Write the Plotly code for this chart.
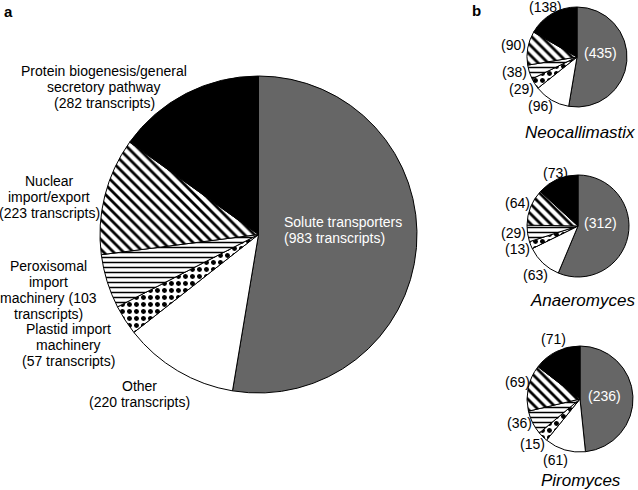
import plotly.graph_objects as go

W, H = 638, 490
FONT = "Liberation Sans, Arial, sans-serif"

# ---- data ----
categories = ["Solute transporters", "Other", "Plastid import machinery",
              "Peroxisomal import machinery", "Nuclear import/export",
              "Protein biogenesis/general secretory pathway"]
all_values = [983, 220, 57, 103, 223, 282]
species = ["Neocallimastix", "Anaeromyces", "Piromyces"]
neo_values = [435, 96, 29, 38, 90, 138]
ana_values = [312, 63, 13, 29, 64, 73]
pir_values = [236, 61, 15, 36, 69, 71]
species_values = [neo_values, ana_values, pir_values]

# ---- styles ----
colors = ["#666666", "#ffffff", "#ffffff", "#ffffff", "#ffffff", "#000000"]
shapes = ["", "", ".", "-", "\\", ""]
pat_sizes = [8, 8, 7, 5, 7, 8]
pat_sol = [0.3, 0.3, 0.4, 0.3, 0.4, 0.3]


def dom(cx, cy, r):
    return dict(x=[(cx - r) / W, (cx + r) / W], y=[1 - (cy + r) / H, 1 - (cy - r) / H])


def pie(values, cx, cy, r):
    return go.Pie(
        labels=categories, values=values, sort=False, direction="clockwise",
        rotation=0, textinfo="none", hoverinfo="label+value", showlegend=False,
        domain=dom(cx, cy, r),
        marker=dict(colors=colors, line=dict(color="black", width=1),
                    pattern=dict(shape=shapes, fgcolor="black", bgcolor="white",
                                 size=pat_sizes, solidity=pat_sol)),
    )


fig = go.Figure()
fig.add_trace(pie(all_values, 258.5, 234.5, 158.5))
pie_geo = [(577, 57, 50), (578, 226, 51), (580, 399, 53)]
for vals, (cx, cy, r) in zip(species_values, pie_geo):
    fig.add_trace(pie(vals, cx, cy, r))

ann = []


def txt(s, x, y, size=14, color="black", xanchor="center", italic=False, bold=False):
    if bold:
        s = "<b>" + s + "</b>"
    if italic:
        s = "<i>" + s + "</i>"
    ann.append(dict(text=s, x=x / W, y=1 - y / H, xref="paper", yref="paper",
                    xanchor=xanchor, yanchor="middle", showarrow=False,
                    font=dict(family=FONT, size=size, color=color)))


def block(lines, x, y0, step=16, **kw):
    for i, ln in enumerate(lines):
        txt(ln, x, y0 + i * step, **kw)


# main pie labels
v = dict(zip(categories, all_values))
block(["Protein biogenesis/general", "secretory pathway",
       f"({v[categories[5]]} transcripts)"], 104, 71)
block(["Nuclear", "import/export", f"({v[categories[4]]} transcripts)"], 49, 181)
block(["Peroxisomal", "import", f"machinery ({v[categories[3]]}", "transcripts)"], 48, 266)
block(["Plastid import", "machinery", f"({v[categories[2]]} transcripts)"], 68, 329)
block(["Other", f"({v[categories[1]]} transcripts)"], 139, 386)
block(["Solute transporters", f"({v[categories[0]]} transcripts)"], 282, 222,
      color="white", xanchor="left")

# small pie labels: positions for slices in category order
label_pos = [
    [(600, 53), (540, 106), (521, 89), (514, 72), (513, 45), (545, 7)],
    [(600, 223), (535, 275), (517, 249), (513, 233), (517, 203), (555, 173)],
    [(604, 396), (555, 460), (532, 444), (519, 423), (517, 382), (553, 339)],
]
name_pos = [(580, 132), (582, 300), (581, 480)]
for vals, pos, name, npos in zip(species_values, label_pos, species, name_pos):
    for i, (val, (x, y)) in enumerate(zip(vals, pos)):
        txt(f"({val})", x, y, color="white" if i == 0 else "black")
    txt(name, npos[0], npos[1], size=17, italic=True)

txt("a", 8, 12, size=15, bold=True)
txt("b", 476, 10, size=15, bold=True)

fig.update_layout(width=W, height=H, margin=dict(l=0, r=0, t=0, b=0),
                  paper_bgcolor="white", plot_bgcolor="white",
                  annotations=ann, font=dict(family=FONT))
fig.write_html("out.html", config={"displayModeBar": False},
               post_script="document.body.style.margin='0';document.body.style.padding='0';")
